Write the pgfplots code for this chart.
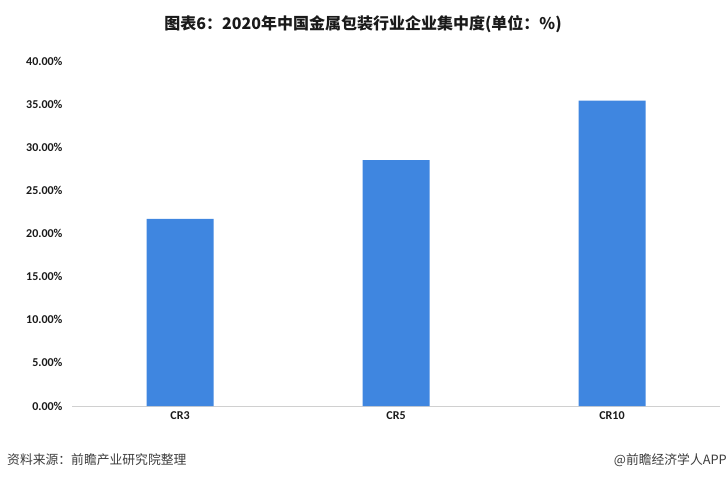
\documentclass[border=0pt]{standalone}
\usepackage{fontspec}
\setmainfont{Carlito}
\newfontfamily\cjk{Noto Sans CJK SC}
\usepackage{pgfplots}
\pgfplotsset{compat=1.18}
\definecolor{barblue}{HTML}{3F86E0}
\definecolor{axgray}{HTML}{D0D0D0}
\definecolor{txt}{HTML}{1A1A1A}
\begin{document}
\begin{tikzpicture}
\path[use as bounding box] (0pt,0pt) rectangle (727pt,480pt);
\begin{axis}[
  at={(72pt,74pt)}, anchor=south west,
  scale only axis, width=648pt, height=345pt,
  xmin=-0.5, xmax=2.5, ymin=0, ymax=40,
  axis x line*=bottom, axis y line*=left,
  x axis line style={draw=axgray, line width=0.8pt, -},
  y axis line style={draw=none},
  xtick=data, xticklabels={CR3,CR5,CR10},
  ytick={0,5,...,40},
  yticklabel={\pgfmathprintnumber[fixed,fixed zerofill,precision=2]{\tick}\%},
  /pgf/number format/assume math mode=true,
  ticklabel style={font=\fontsize{12}{14}\selectfont\bfseries, text=txt},
  yticklabel style={xshift=-6pt},
  xticklabel style={yshift=-2pt},
  major tick length=0pt,
  ybar, bar width=67pt,
  clip=false,
]
\addplot[fill=barblue, draw=none] coordinates {(0,21.7) (1,28.5) (2,35.4)};
\end{axis}
\node[font=\cjk\bfseries\fontsize{16}{18}\selectfont, text=txt] at (363pt,456pt) {图表6：2020年中国金属包装行业企业集中度(单位：\%)};
\node[font=\cjk\fontsize{12.8}{14}\selectfont, text=txt!85, anchor=west, inner sep=0pt] at (7pt,20pt) {资料来源：前瞻产业研究院整理};
\node[font=\cjk\fontsize{12.8}{14}\selectfont, text=txt!85, anchor=east, inner sep=0pt] at (727pt,20pt) {@前瞻经济学人APP};
\end{tikzpicture}
\end{document}
